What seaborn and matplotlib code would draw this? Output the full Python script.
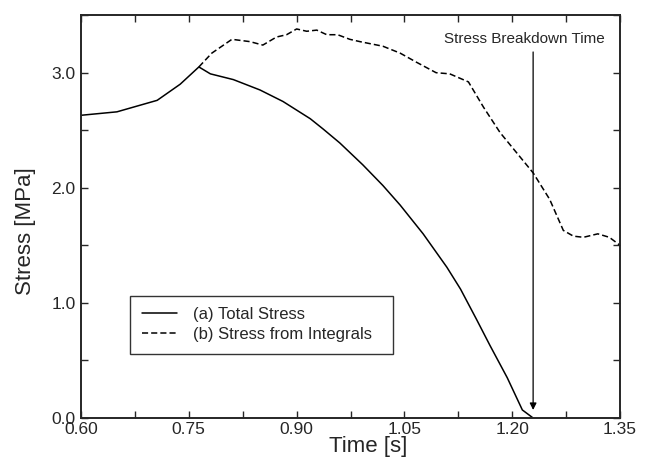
import numpy as np
import pandas as pd
import matplotlib
matplotlib.use("Agg")
import matplotlib.pyplot as plt
import seaborn as sns
from matplotlib.ticker import MultipleLocator

# values
total_t = [0.600, 0.650, 0.706, 0.738, 0.764, 0.780, 0.812, 0.849, 0.881, 0.919,
           0.937, 0.960, 0.992, 1.020, 1.044, 1.076, 1.109, 1.128, 1.150, 1.169,
           1.193, 1.214, 1.229]
total_s = [2.63, 2.66, 2.76, 2.90, 3.05, 2.99, 2.94, 2.85, 2.75, 2.60,
           2.51, 2.39, 2.20, 2.02, 1.85, 1.60, 1.31, 1.12, 0.86, 0.63,
           0.35, 0.07, 0.00]

integ_t = [0.764, 0.782, 0.810, 0.835, 0.853, 0.872, 0.886, 0.900, 0.914, 0.928,
           0.942, 0.957, 0.974, 0.988, 1.020, 1.044, 1.067, 1.094, 1.113, 1.139,
           1.160, 1.183, 1.229, 1.252, 1.271, 1.285, 1.299, 1.319, 1.335, 1.350]
integ_s = [3.05, 3.17, 3.29, 3.27, 3.24, 3.31, 3.33, 3.38, 3.36, 3.37,
           3.33, 3.33, 3.29, 3.27, 3.23, 3.17, 3.09, 3.00, 2.99, 2.92,
           2.70, 2.48, 2.13, 1.90, 1.63, 1.58, 1.57, 1.60, 1.57, 1.50]

breakdown_t = 1.229
labels = ["(a) Total Stress", "(b) Stress from Integrals"]

df = pd.concat([
    pd.DataFrame({"Time": total_t, "Stress": total_s, "Series": labels[0]}),
    pd.DataFrame({"Time": integ_t, "Stress": integ_s, "Series": labels[1]}),
])

sns.set_style("ticks")
plt.rcParams['font.family'] = ['Liberation Sans', 'DejaVu Sans']

fig, ax = plt.subplots(figsize=(6.5, 4.59), dpi=100)
fig.subplots_adjust(left=0.1246, right=0.954, bottom=0.0893, top=0.967)

sns.lineplot(data=df, x="Time", y="Stress", hue="Series", style="Series",
             palette=["black", "black"], dashes=[(None, None), (4, 2)],
             sort=False, linewidth=1.1, ax=ax)

ax.set_xlim(0.60, 1.35)
ax.set_ylim(0.0, 3.5)
ax.xaxis.set_major_locator(MultipleLocator(0.15))
ax.xaxis.set_minor_locator(MultipleLocator(0.075))
ax.yaxis.set_major_locator(MultipleLocator(1.0))
ax.yaxis.set_minor_locator(MultipleLocator(0.5))
ax.xaxis.set_major_formatter(plt.FormatStrFormatter("%.2f"))
ax.yaxis.set_major_formatter(plt.FormatStrFormatter("%.1f"))
ax.tick_params(which="both", direction="in", top=True, right=True,
               length=5, width=1.0, labelsize=12.5)
ax.tick_params(axis="x", pad=3)
ax.tick_params(axis="y", pad=4)
for sp in ax.spines.values():
    sp.set_linewidth(1.4)
    sp.set_visible(True)

ax.set_xlabel("Time [s]", fontsize=16)
ax.set_ylabel("Stress [MPa]", fontsize=16)
ax.xaxis.set_label_coords(0.532, -0.045)
ax.yaxis.set_label_coords(-0.084, 0.464)

ax.annotate("", xy=(breakdown_t, 0.07), xytext=(breakdown_t, 3.18),
            arrowprops=dict(arrowstyle="-|>", color="black", lw=0.9,
                            mutation_scale=10, shrinkA=0, shrinkB=0))
ax.text(1.2165, 3.29, "Stress Breakdown Time", ha="center", va="center",
        fontsize=11)

leg = ax.legend(loc="lower left", bbox_to_anchor=(0.091, 0.159, 0.488, 0.141),
                mode="expand", fancybox=False, frameon=True, fontsize=12,
                handlelength=2.1, handletextpad=1.0, borderaxespad=0,
                title=None, labelspacing=0.3, borderpad=0.7)
leg.get_frame().set_edgecolor("black")
leg.get_frame().set_linewidth(1.0)

fig.savefig("out.png", dpi=100)
